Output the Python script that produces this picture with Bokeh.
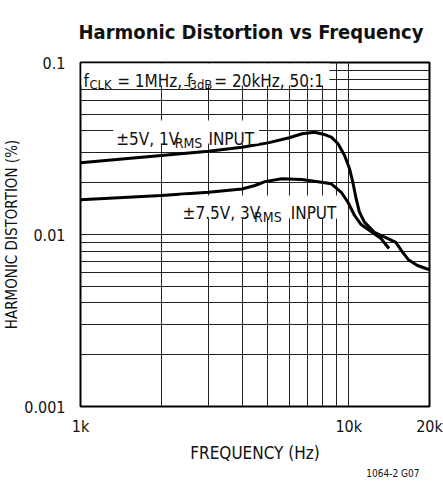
import math
from bokeh.plotting import figure
from bokeh.models import FixedTicker, Label, BoxAnnotation, Title
from bokeh.embed import file_html
from bokeh.resources import INLINE

# ---- data ----
freq_5v = [1000, 2000, 3000, 4000, 5000, 6000, 6700, 7450, 8120, 8610, 9120, 9650,
           10070, 10360, 10660, 10960, 11440, 12460, 13760, 14980, 15860, 16740,
           18030, 19630, 20000]
thd_5v = [0.0261, 0.0288, 0.0305, 0.0322, 0.0341, 0.0365, 0.0385, 0.0393, 0.0381,
          0.0368, 0.0337, 0.0288, 0.0241, 0.0201, 0.0161, 0.0135, 0.0118, 0.0103,
          0.0096, 0.0090, 0.0079, 0.0071, 0.0066, 0.0063, 0.00626]

freq_75v = [1000, 2000, 3000, 4000, 4470, 4870, 5630, 6670, 7910, 8610, 9380, 9930,
            10510, 11120, 12110, 13190, 14120]
thd_75v = [0.0159, 0.01685, 0.0176, 0.0184, 0.01927, 0.0203, 0.0211, 0.0209, 0.0201,
           0.0197, 0.0176, 0.0154, 0.0129, 0.01143, 0.0104, 0.00948, 0.00829]

x_major_ticks = [1000, 10000, 20000]
x_tick_labels = ["1k", "10k", "20k"]
x_minor_ticks = [2000, 3000, 4000, 5000, 6000, 7000, 8000, 9000]
y_major_ticks = [0.001, 0.01, 0.1]
y_tick_labels = ["0.001", "0.01", "0.1"]
y_minor_ticks = [0.002, 0.003, 0.004, 0.005, 0.006, 0.007, 0.008, 0.009,
                 0.02, 0.03, 0.04, 0.05, 0.06, 0.07, 0.08, 0.09]

FONT = "DejaVu Sans Condensed"
INK = "#111111"

W, H = 443, 485
LEFT, TOP = 77, 62
RIGHT = W - 429
BOTTOM = H - 406
FW = W - LEFT - RIGHT
FH = H - TOP - BOTTOM

p = figure(width=W, height=H, x_axis_type="log", y_axis_type="log",
           x_range=(1000, 20000), y_range=(0.001, 0.1),
           output_backend="svg", toolbar_location=None,
           min_border_left=LEFT, min_border_right=RIGHT,
           min_border_top=TOP, min_border_bottom=BOTTOM)

p.background_fill_color = "white"
p.border_fill_color = "white"
p.outline_line_color = "black"
p.outline_line_width = 2
p.title.text = ""

# axes
p.xaxis.ticker = FixedTicker(ticks=x_major_ticks, minor_ticks=x_minor_ticks)
p.yaxis.ticker = FixedTicker(ticks=y_major_ticks, minor_ticks=y_minor_ticks)
p.xaxis.major_label_overrides = {t: l for t, l in zip(x_major_ticks, x_tick_labels)}
p.yaxis.major_label_overrides = {t: l for t, l in zip(y_major_ticks, y_tick_labels)}
for ax in (p.xaxis, p.yaxis):
    ax.axis_line_color = None
    ax.major_tick_line_color = None
    ax.minor_tick_line_color = None
    ax.major_tick_out = 0
    ax.major_tick_in = 0
    ax.minor_tick_out = 0
    ax.minor_tick_in = 0
    ax.major_label_text_font = FONT
    ax.major_label_text_font_size = "16px"
    ax.major_label_text_color = INK
    ax.axis_label_text_font = FONT
    ax.axis_label_text_font_style = "normal"
    ax.axis_label_text_color = INK
p.xaxis.axis_label = "FREQUENCY (Hz)"
p.xaxis.axis_label_text_font_size = "17px"
p.yaxis.axis_label = "HARMONIC DISTORTION (%)"
p.yaxis.axis_label_text_font_size = "15px"
p.xaxis.major_label_standoff = 10
p.yaxis.major_label_standoff = 15
p.xaxis.axis_label_standoff = 4
p.yaxis.axis_label_standoff = 0

# grid
for g in (p.xgrid, p.ygrid):
    g.grid_line_color = "#222222"
    g.grid_line_width = 1
    g.minor_grid_line_color = "#222222"
    g.minor_grid_line_width = 1

# title above the frame
p.add_layout(Title(text="Harmonic Distortion vs Frequency", align="left", offset=-2,
                   standoff=36, vertical_align="middle", text_font=FONT,
                   text_font_style="bold", text_font_size="20px",
                   text_color=INK), "above")

# figure code below the axis label
p.add_layout(Title(text="1064-2 G07", align="right", offset=10, standoff=0,
                   text_font=FONT, text_font_style="normal",
                   text_font_size="10px", text_color=INK), "below")


def fx(px):
    # reference pixel -> frequency
    return 1000 * 10 ** ((px - LEFT) / FW * math.log10(20))


def fy(py):
    # reference pixel -> value
    return 10 ** (-1 - (py - TOP) / FH * 2)


# white boxes behind annotation texts
for (x0, x1, y0, y1) in [(78, 328, 63, 85), (110, 257, 120, 143), (177, 340, 195, 218)]:
    p.add_layout(BoxAnnotation(left=fx(x0), right=fx(x1), top=fy(y0), bottom=fy(y1),
                               fill_color="white", fill_alpha=1, line_color=None,
                               level="glyph"))

# curves
p.line(freq_5v, thd_5v, line_color="black", line_width=3)
p.line(freq_75v, thd_75v, line_color="black", line_width=3)


def txt(s, px, py, size):
    p.add_layout(Label(x=fx(px), y=fy(py), text=s, text_font=FONT,
                       text_font_size=size, text_color=INK,
                       text_baseline="alphabetic", text_align="left"))


# condition annotation
txt("f", 80, 80, "17px")
txt("CLK", 86, 84, "13px")
txt("= 1MHz, f", 114, 80, "17px")
txt("\u20133dB", 181, 84, "13px")
txt("= 20kHz, 50:1", 212, 80, "17px")

# series labels
txt("\u00b15V, 1V", 113, 138, "17px")
txt("RMS", 172, 142, "14px")
txt("INPUT", 206, 138, "17px")

txt("\u00b17.5V, 3V", 180, 212, "17px")
txt("RMS", 252, 216, "14px")
txt("INPUT", 289, 212, "17px")

open("out.html", "w").write(file_html(p, INLINE))
